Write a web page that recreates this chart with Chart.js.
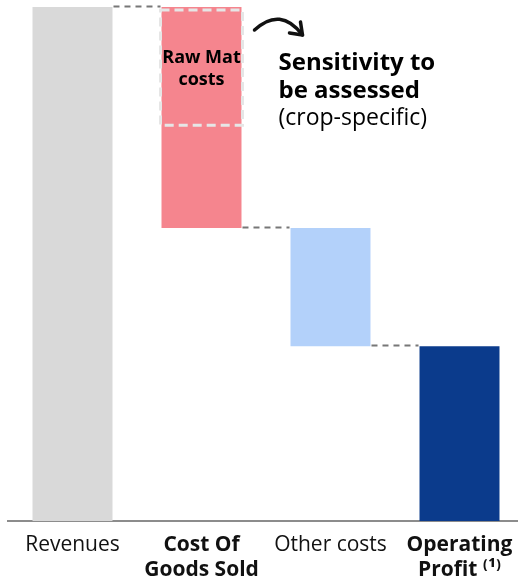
<!DOCTYPE html>
<html>
<head>
<meta charset="utf-8">
<script src="https://cdn.jsdelivr.net/npm/chart.js@4/dist/chart.umd.min.js"></script>
<style>
  html, body { margin: 0; padding: 0; background: #fff; overflow: hidden; }
  #wrap { width: 526px; height: 580px; }
</style>
</head>
<body>
<div id="wrap"><canvas id="chart"></canvas></div>
<script>
// --- data ---
const categories = [['Revenues'], ['Cost Of', 'Goods Sold'], ['Other costs'], ['Operating', 'Profit ⁽¹⁾']];
const barStart = [0, 57, 34, 0];
const barEnd = [100, 100, 57, 34];
const rawMatFrom = 77;   // part of COGS flagged as raw material costs
const barColors = ['#d9d9d9', '#f5858e', '#b3d1fa', '#0b3b8c'];
const boldLabel = [false, true, false, true];

const FONT = "'Open Sans', 'Noto Sans', sans-serif";

/* --- connectors, raw mat box, annotation --- */
const extras = {
    id: 'extras',
    afterDatasetsDraw(chart) {
        const { ctx, scales: { y } } = chart;
        const bars = chart.getDatasetMeta(0).data;
        ctx.save();

        // dashed connectors between bars
        ctx.strokeStyle = '#777';
        ctx.lineWidth = 2;
        ctx.setLineDash([6, 5]);
        for (let i = 0; i < bars.length - 1; i++) {
            const level = barStart[i] > 0 ? barStart[i] : barEnd[i];
            const yy = Math.round(y.getPixelForValue(level)) - 0.5;
            const x0 = bars[i].x + bars[i].width / 2 + 1;
            const x1 = bars[i + 1].x - bars[i + 1].width / 2 - 1;
            ctx.beginPath(); ctx.moveTo(x0, yy); ctx.lineTo(x1, yy); ctx.stroke();
        }

        // raw mat dashed box on COGS
        const b = bars[1];
        const left = b.x - b.width / 2, right = b.x + b.width / 2;
        const top = y.getPixelForValue(barEnd[1]);
        const bot = y.getPixelForValue(rawMatFrom);
        ctx.strokeStyle = '#e6e6e6';
        ctx.lineWidth = 3;
        ctx.setLineDash([9, 5]);
        ctx.strokeRect(left - 1, top + 3, b.width + 2, bot - top - 3);
        ctx.setLineDash([]);

        ctx.fillStyle = '#000';
        ctx.textAlign = 'center';
        ctx.textBaseline = 'alphabetic';
        ctx.font = `bold 18px ${FONT}`;
        ctx.fillText('Raw Mat', b.x, top + 56);
        ctx.fillText('costs', b.x, top + 78);

        // curved arrow
        ctx.strokeStyle = '#111';
        ctx.lineWidth = 3.5;
        ctx.lineCap = 'round';
        ctx.lineJoin = 'round';
        const ax = right + 13, ay = top + 23;
        ctx.beginPath();
        ctx.moveTo(ax, ay);
        ctx.quadraticCurveTo(ax + 26, ay - 24, ax + 48, ay + 5);
        ctx.stroke();
        ctx.beginPath();
        ctx.moveTo(ax + 35, ay + 3);
        ctx.lineTo(ax + 48, ay + 5);
        ctx.lineTo(ax + 46, ay - 8);
        ctx.stroke();

        // annotation text
        ctx.textAlign = 'left';
        ctx.font = `bold 24px ${FONT}`;
        ctx.fillText('Sensitivity to', right + 37, top + 63);
        ctx.fillText('be assessed', right + 37, top + 91);
        ctx.font = `23px ${FONT}`;
        ctx.fillText('(crop-specific)', right + 37, top + 118);
        ctx.restore();
    }
};

new Chart(document.getElementById('chart'), {
    type: 'bar',
    data: {
        labels: categories,
        datasets: [{
            data: barStart.map((s, i) => [s, barEnd[i]]),
            backgroundColor: barColors,
            borderWidth: 0,
            barPercentage: 1,
            categoryPercentage: 0.62
        }]
    },
    options: {
        animation: false,
        responsive: true,
        maintainAspectRatio: false,
        layout: { padding: { left: 8, right: 2, top: 7, bottom: 0 } },
        plugins: { legend: { display: false }, tooltip: { enabled: false } },
        scales: {
            x: {
                grid: { display: false },
                border: { display: true, color: '#8c8c8c', width: 2 },
                afterFit: (s) => { s.height = 59; },
                ticks: {
                    color: '#111',
                    padding: 3,
                    maxRotation: 0,
                    autoSkip: false,
                    font: (c) => ({ family: FONT, size: 21, weight: boldLabel[c.index] ? 'bold' : 'normal', lineHeight: 1.2 })
                }
            },
            y: { display: false, min: 0, max: 100 }
        }
    },
    plugins: [extras]
});
</script>
</body>
</html>
